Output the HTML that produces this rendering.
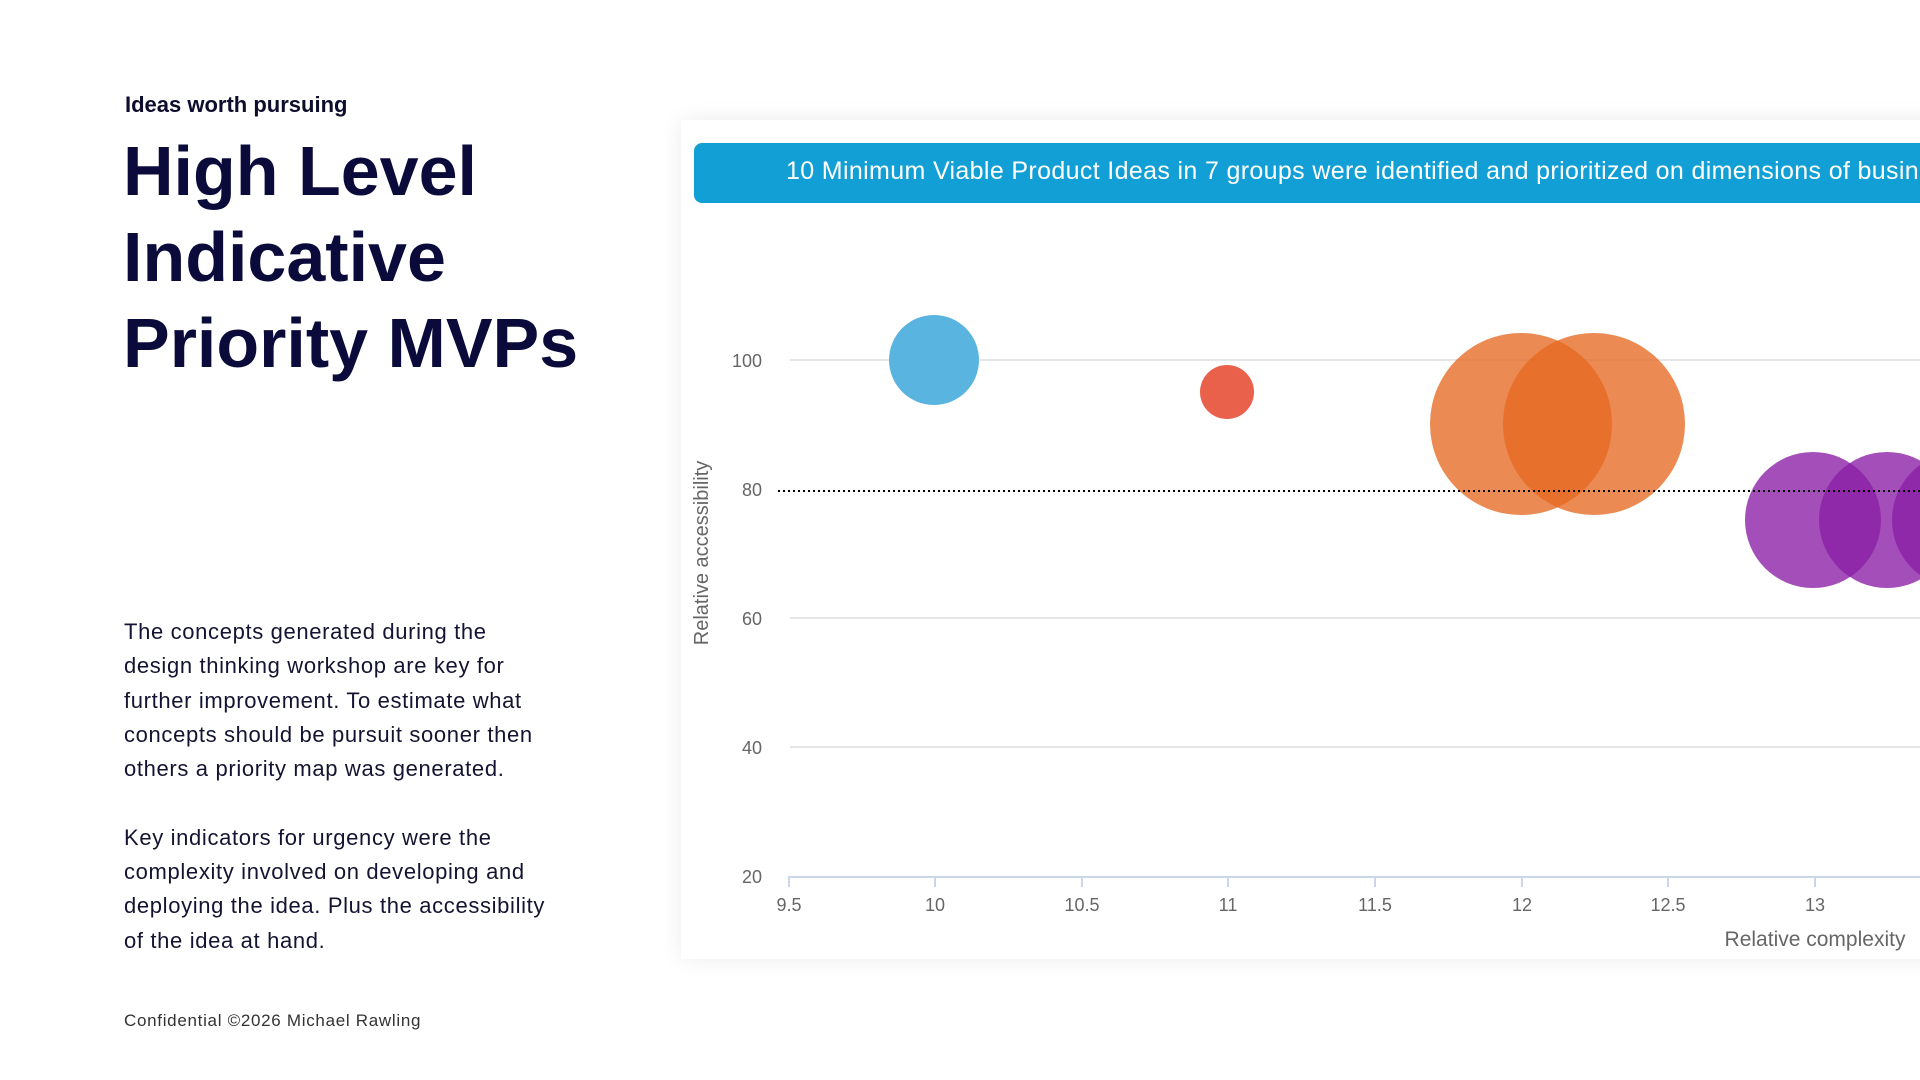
<!DOCTYPE html>
<html><head><meta charset="utf-8"><style>
body{margin:0;width:1920px;height:1080px;overflow:hidden;background:#fff;font-family:"Liberation Sans",sans-serif;position:relative;color:#0d0d3a}
.a{position:absolute;white-space:nowrap}
</style></head><body>
<div class="a" style="left:125px;top:92px;font-size:22px;font-weight:bold;color:#0d0d2e">Ideas worth pursuing</div>
<div class="a" style="left:123px;top:128px;font-size:70px;font-weight:bold;line-height:86px;color:#0b0b3b">High Level<br>Indicative<br>Priority MVPs</div>
<div class="a" style="left:124px;top:615px;font-size:22px;line-height:34.3px;letter-spacing:0.65px;color:#141432">The concepts generated during the<br>design thinking workshop are key for<br>further improvement. To estimate what<br>concepts should be pursuit sooner then<br>others a priority map was generated.<br><br>Key indicators for urgency were the<br>complexity involved on developing and<br>deploying the idea. Plus the accessibility<br>of the idea at hand.</div>
<div class="a" style="left:124px;top:1011px;font-size:17px;letter-spacing:0.7px;color:#333">Confidential ©2026 Michael Rawling</div>
<div class="a" style="left:681px;top:120px;width:1260px;height:839px;background:#fff;box-shadow:0 0 20px rgba(0,0,0,0.08)"></div>
<div class="a" style="left:694px;top:143px;width:1240px;height:60px;background:#119fd6;border-radius:8px"></div>
<div class="a" style="left:786px;top:157px;font-size:25px;letter-spacing:0.35px;color:#fff">10 Minimum Viable Product Ideas in 7 groups were identified and prioritized on dimensions of business</div>
<svg class="a" style="left:0;top:0" width="1920" height="1080">
<g stroke="#e6e6e6" stroke-width="2">
<line x1="790" y1="360" x2="1920" y2="360"/>
<line x1="790" y1="618" x2="1920" y2="618"/>
<line x1="790" y1="747" x2="1920" y2="747"/>
</g>
<line x1="788" y1="877" x2="1920" y2="877" stroke="#ccd6eb" stroke-width="2"/>
<g stroke="#ccd6eb" stroke-width="2">
<line x1="789" y1="877" x2="789" y2="887"/><line x1="935" y1="877" x2="935" y2="887"/><line x1="1082" y1="877" x2="1082" y2="887"/><line x1="1228" y1="877" x2="1228" y2="887"/><line x1="1375" y1="877" x2="1375" y2="887"/><line x1="1522" y1="877" x2="1522" y2="887"/><line x1="1668" y1="877" x2="1668" y2="887"/><line x1="1815" y1="877" x2="1815" y2="887"/>
</g>
<g font-family="Liberation Sans,sans-serif" font-size="18" fill="#666" text-anchor="middle">
<text x="789" y="911">9.5</text><text x="935" y="911">10</text><text x="1082" y="911">10.5</text><text x="1228" y="911">11</text><text x="1375" y="911">11.5</text><text x="1522" y="911">12</text><text x="1668" y="911">12.5</text><text x="1815" y="911">13</text>
</g>
<g font-family="Liberation Sans,sans-serif" font-size="18" fill="#666" text-anchor="end">
<text x="762" y="367">100</text><text x="762" y="496">80</text><text x="762" y="625">60</text><text x="762" y="754">40</text><text x="762" y="883">20</text>
</g>
<text x="1815" y="946" font-family="Liberation Sans,sans-serif" font-size="21" fill="#666" text-anchor="middle">Relative complexity</text>
<text transform="translate(708,553) rotate(-90)" font-family="Liberation Sans,sans-serif" font-size="20" fill="#666" text-anchor="middle">Relative accessibility</text>
<circle cx="934" cy="360" r="45" fill="#5ab4e0"/>
<circle cx="1227" cy="392" r="27" fill="#e9604b"/>
<circle cx="1521" cy="424" r="91" fill="rgba(229,105,35,0.78)"/>
<circle cx="1594" cy="424" r="91" fill="rgba(229,105,35,0.78)"/>
<circle cx="1813" cy="520" r="68" fill="rgba(138,30,165,0.78)"/>
<circle cx="1887" cy="520" r="68" fill="rgba(138,30,165,0.78)"/>
<circle cx="1960" cy="520" r="68" fill="rgba(138,30,165,0.78)"/>
<line x1="778" y1="491" x2="1920" y2="491" stroke="#000" stroke-width="2" stroke-dasharray="2,3"/>
</svg>
</body></html>
